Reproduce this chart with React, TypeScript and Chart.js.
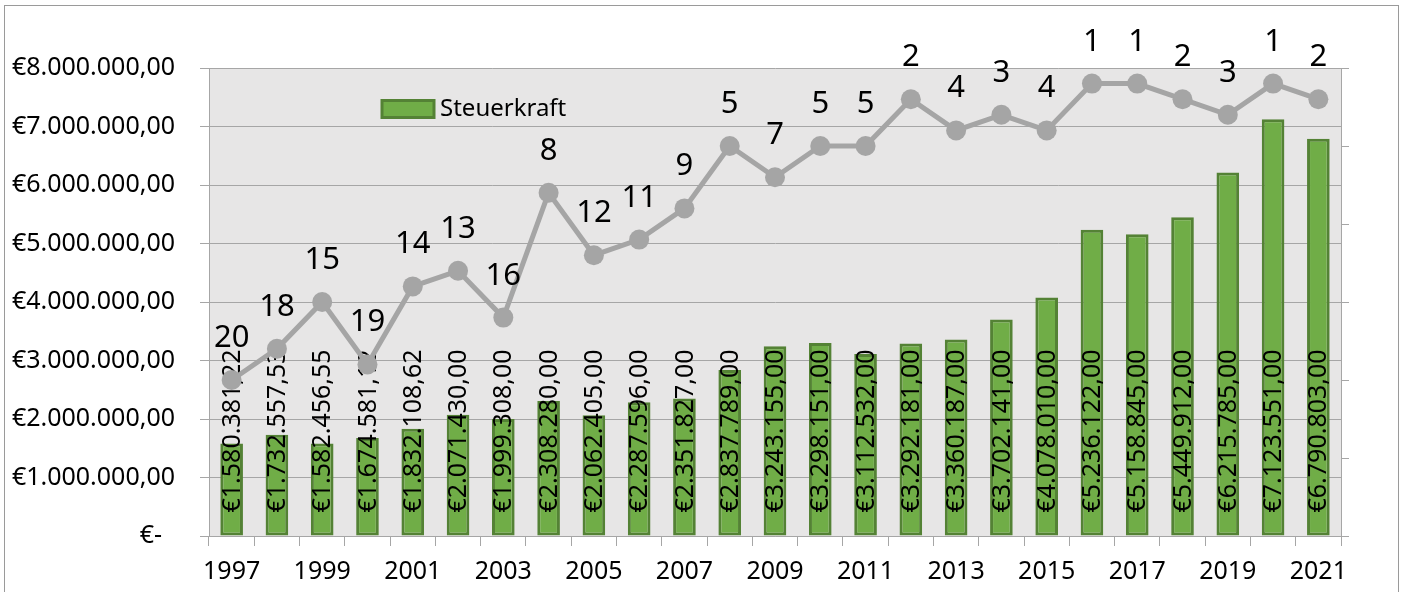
import React, { useEffect, useRef } from "react";
import { Chart, registerables } from "chart.js";

Chart.register(...registerables);

const years = [
  "1997", "1998", "1999", "2000", "2001", "2002", "2003", "2004", "2005",
  "2006", "2007", "2008", "2009", "2010", "2011", "2012", "2013", "2014",
  "2015", "2016", "2017", "2018", "2019", "2020", "2021",
];

const steuerkraft = [
  1580381.22, 1732557.53, 1582456.55, 1674581.12, 1832108.62, 2071430.0,
  1999308.0, 2308280.0, 2062405.0, 2287596.0, 2351827.0, 2837789.0,
  3243155.0, 3298151.0, 3112532.0, 3292181.0, 3360187.0, 3702141.0,
  4078010.0, 5236122.0, 5158845.0, 5449912.0, 6215785.0, 7123551.0,
  6790803.0,
];

const rang = [
  20, 18, 15, 19, 14, 13, 16, 8, 12, 11, 9, 5, 7, 5, 5, 2, 4, 3, 4, 1, 1, 2,
  3, 1, 2,
];

const legendLabel = "Steuerkraft";

const FONT = "'Noto Sans', 'Open Sans', sans-serif";
const GREEN = "#70ad47";
const GREEN_DARK = "#548235";
const GREY_LINE = "#a5a5a5";
const AXIS = "#a6a6a6";

function fmtEuro(v: number): string {
  if (v === 0) return "€-  ";
  const fixed = v.toFixed(2);
  const [intPart, dec] = fixed.split(".");
  const intF = intPart.replace(/\B(?=(\d{3})+(?!\d))/g, ".");
  return "€" + intF + "," + dec;
}

const customPlugin = {
  id: "customDraw",
  beforeDraw(chart: any) {
    const { ctx, chartArea, width, height } = chart;
    ctx.save();
    ctx.fillStyle = "#ffffff";
    ctx.fillRect(0, 0, width, height);
    ctx.strokeStyle = "#9a9a9a";
    ctx.lineWidth = 1;
    ctx.strokeRect(4.5, 5.5, 1394, 620);
    ctx.fillStyle = "#e7e6e6";
    ctx.fillRect(
      chartArea.left,
      chartArea.top,
      chartArea.right - chartArea.left,
      chartArea.bottom - chartArea.top
    );
    ctx.restore();
  },
  afterDatasetDraw(chart: any, args: any) {
    const { ctx } = chart;
    const meta = chart.getDatasetMeta(args.index);
    if (args.index === 0) {
      ctx.save();
      ctx.fillStyle = "#000000";
      ctx.font = `25px ${FONT}`;
      ctx.textAlign = "left";
      ctx.textBaseline = "middle";
      meta.data.forEach((el: any, i: number) => {
        const base = el.base;
        ctx.save();
        ctx.translate(el.x + 1, base - 23);
        ctx.rotate(-Math.PI / 2);
        ctx.fillText(fmtEuro(steuerkraft[i]), 0, 0);
        ctx.restore();
      });
      ctx.restore();
    } else if (args.index === 1) {
      ctx.save();
      ctx.fillStyle = "#000000";
      ctx.font = `31px ${FONT}`;
      ctx.textAlign = "center";
      ctx.textBaseline = "alphabetic";
      meta.data.forEach((el: any, i: number) => {
        ctx.fillText(String(rang[i]), el.x, el.y - 33);
      });
      ctx.restore();
    }
  },
  afterDraw(chart: any) {
    const { ctx } = chart;
    ctx.save();
    ctx.fillStyle = GREEN;
    ctx.strokeStyle = GREEN_DARK;
    ctx.lineWidth = 3;
    ctx.beginPath();
    ctx.rect(382, 100.5, 52, 17);
    ctx.fill();
    ctx.stroke();
    ctx.fillStyle = "#000000";
    ctx.font = `24px ${FONT}`;
    ctx.textAlign = "left";
    ctx.textBaseline = "middle";
    ctx.fillText(legendLabel, 440, 109);
    ctx.restore();
  },
};

export default function App() {
  const ref = useRef<HTMLCanvasElement | null>(null);

  useEffect(() => {
    if (!ref.current) return;
    const chart = new Chart(ref.current, {
      type: "bar",
      data: {
        labels: years,
        datasets: [
          {
            type: "bar",
            label: legendLabel,
            data: steuerkraft,
            backgroundColor: GREEN,
            borderColor: GREEN_DARK,
            borderWidth: 3,
            borderSkipped: false,
            barPercentage: 0.5,
            categoryPercentage: 1.0,
            yAxisID: "y",
            order: 2,
          },
          {
            type: "line",
            label: "Rang",
            data: rang,
            borderColor: GREY_LINE,
            borderWidth: 5,
            pointRadius: 10,
            pointBackgroundColor: GREY_LINE,
            pointBorderColor: GREY_LINE,
            pointBorderWidth: 0,
            tension: 0,
            yAxisID: "y1",
            order: 1,
            clip: false,
          } as any,
        ],
      },
      options: {
        responsive: false,
        animation: false,
        layout: { padding: { top: 68, left: 0, right: 0, bottom: 0 } },
        plugins: {
          legend: { display: false },
          tooltip: { enabled: false },
          title: { display: false },
        },
        scales: {
          x: {
            type: "category",
            offset: true,
            grid: {
              offset: true,
              drawOnChartArea: false,
              drawTicks: true,
              tickLength: 10,
              color: AXIS,
            },
            border: { display: true, color: AXIS },
            ticks: {
              autoSkip: false,
              maxRotation: 0,
              minRotation: 0,
              padding: 11,
              color: "#000000",
              font: { family: FONT, size: 25 },
              callback: (_v: any, i: number) => (i % 2 === 0 ? years[i] : ""),
            },
            afterFit: (scale: any) => {
              scale.height = 56;
            },
          },
          y: {
            type: "linear",
            position: "left",
            min: 0,
            max: 8000000,
            grid: {
              color: AXIS,
              tickLength: 9,
              drawTicks: true,
            },
            border: { display: true, color: AXIS },
            ticks: {
              stepSize: 1000000,
              padding: 25,
              color: "#000000",
              font: { family: FONT, size: 25 },
              callback: (v: any) => fmtEuro(Number(v)),
            },
            afterFit: (scale: any) => {
              scale.width = 209;
            },
          },
          y1: {
            type: "linear",
            position: "right",
            reverse: true,
            min: 0,
            max: 30,
            grid: {
              drawOnChartArea: false,
              drawTicks: true,
              tickLength: 8,
              color: AXIS,
            },
            border: { display: true, color: AXIS },
            ticks: {
              stepSize: 5,
              display: false,
            },
            afterFit: (scale: any) => {
              scale.width = 63;
            },
          },
        },
      } as any,
      plugins: [customPlugin],
    });
    return () => chart.destroy();
  }, []);

  return (
    <div
      style={{
        position: "fixed",
        left: 0,
        top: 0,
        width: 1404,
        height: 592,
        background: "#ffffff",
      }}
    >
      <canvas ref={ref} width={1404} height={592} />
    </div>
  );
}
